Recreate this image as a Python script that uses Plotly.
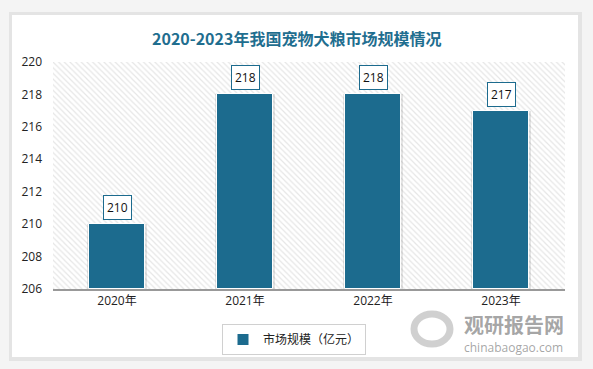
import plotly.graph_objects as go

years = ["2020年", "2021年", "2022年", "2023年"]
values = [210, 218, 218, 217]
series_name = "市场规模（亿元）"
title_text = "2020-2023年我国宠物犬粮市场规模情况"
y_min, y_max = 206, 220
y_ticks = [206, 208, 210, 212, 214, 216, 218, 220]

W, H = 593, 369
ml, mr, mt, mb = 53, 28, 62, 80
pw, ph = W - ml - mr, H - mt - mb

def px_x(x):
    return (x - ml) / pw

def px_y(y):
    return (H - mb - y) / ph

bar_color = "#1c6b8e"
xs = list(range(len(years)))

fig = go.Figure()

# hatched plot background
fig.add_trace(go.Bar(
    x=[(len(years) - 1) / 2], y=[y_max - y_min], base=[y_min], width=[len(years)],
    marker=dict(color="white", line=dict(width=0),
                pattern=dict(shape="\\", fgcolor="#cdcdcd", bgcolor="white", size=4, solidity=0.3)),
    showlegend=False, hoverinfo="skip",
))
# bar shadow
fig.add_trace(go.Bar(
    x=xs, y=[v - y_min for v in values], base=[y_min] * len(values), width=0.47,
    marker=dict(color="rgba(0,0,0,0.10)", line=dict(width=0)),
    showlegend=False, hoverinfo="skip",
))
fig.add_trace(go.Bar(
    x=xs, y=[v - y_min for v in values], base=[y_min] * len(values), width=0.43,
    marker=dict(color=bar_color, line=dict(color="white", width=1)),
    name=series_name, showlegend=True, hoverinfo="skip",
))

for x, v in zip(xs, values):
    fig.add_annotation(
        x=x, y=v, text=str(v), showarrow=False, yanchor="bottom", yshift=4,
        font=dict(family="Open Sans, Noto Sans, sans-serif", size=12, color="#111111"),
        bgcolor="white", bordercolor="#1c6b8e", borderwidth=1, borderpad=3,
    )

# card + shadow
fig.add_shape(type="rect", xref="paper", yref="paper",
              x0=px_x(9), x1=px_x(582), y0=px_y(12), y1=px_y(361),
              fillcolor="#e4e4e4", line=dict(width=0), layer="below")
fig.add_shape(type="rect", xref="paper", yref="paper",
              x0=px_x(12), x1=px_x(578), y0=px_y(15), y1=px_y(357),
              fillcolor="white", line=dict(width=0), layer="below")

# title
fig.add_annotation(xref="paper", yref="paper", x=px_x(296), y=px_y(38),
                   text="<b>" + title_text + "</b>", showarrow=False,
                   xanchor="center", yanchor="middle",
                   font=dict(family="Noto Sans CJK SC, sans-serif", size=16, color="#1f6e8f"))

# watermark
fig.add_shape(type="circle", xref="paper", yref="paper",
              x0=px_x(414), x1=px_x(450), y0=px_y(344), y1=px_y(314),
              line=dict(color="rgba(170,170,170,0.55)", width=7), layer="above")
fig.add_annotation(xref="paper", yref="paper", x=px_x(514), y=px_y(324),
                   text="<b>观研报告网</b>", showarrow=False, xanchor="center", yanchor="middle",
                   font=dict(family="Noto Sans CJK SC, sans-serif", size=20, color="rgba(150,150,150,0.85)"))
fig.add_annotation(xref="paper", yref="paper", x=px_x(513), y=px_y(347),
                   text="chinabaogao.com", showarrow=False, xanchor="center", yanchor="middle",
                   font=dict(family="Open Sans, sans-serif", size=12, color="rgba(150,150,150,0.85)"))

fig.update_layout(
    width=W, height=H,
    margin=dict(l=ml, r=mr, t=mt, b=mb, autoexpand=False),
    paper_bgcolor="#f4f4f4", plot_bgcolor="white",
    barmode="overlay", bargap=0,
    font=dict(family="Open Sans, Noto Sans CJK SC, sans-serif", size=12, color="#222222"),
    xaxis=dict(range=[-0.5, len(years) - 0.5], tickvals=xs, ticktext=years,
               showgrid=False, zeroline=False, showline=True, linecolor="#999999", linewidth=1.5,
               ticks="", tickfont=dict(size=12, color="#222222"), fixedrange=True),
    yaxis=dict(range=[y_min, y_max], tickvals=y_ticks, showgrid=False, zeroline=False,
               showline=False, ticks="", ticklabelstandoff=10,
               tickfont=dict(size=12, color="#222222"), fixedrange=True),
    legend=dict(orientation="h", x=px_x(222), y=px_y(324), xanchor="left", yanchor="top",
                bgcolor="white", bordercolor="#d0d0d0", borderwidth=1,
                font=dict(family="Noto Sans CJK SC, sans-serif", size=12, color="#222222"),
                itemwidth=30),
    showlegend=True,
)

fig.write_html("out.html", config={"displayModeBar": False},
               post_script="document.body.style.margin='0';")
